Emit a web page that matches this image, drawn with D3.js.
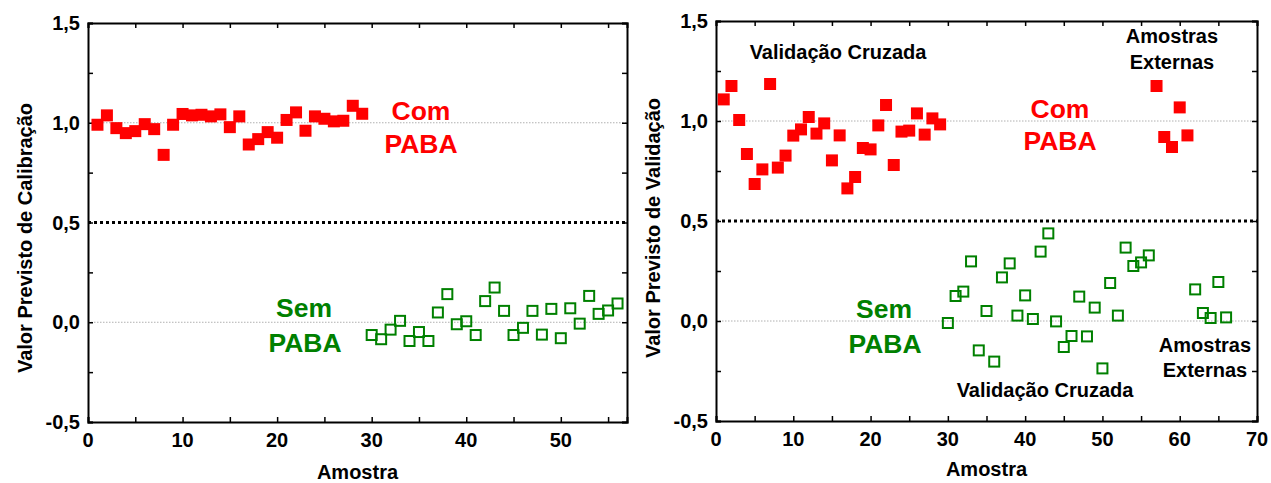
<!DOCTYPE html>
<html><head><meta charset="utf-8">
<script src="https://cdn.jsdelivr.net/npm/d3@7"></script>
<style>
html,body{margin:0;padding:0;background:#fff;}
text{font-family:"Liberation Sans",Arial,Helvetica,sans-serif;font-weight:bold;}
</style></head>
<body>
<svg id="chart" width="1271" height="483"></svg>
<script>
// ---- Data ----
const calComSamples = [1,2,3,4,5,6,7,8,9,10,11,12,13,14,15,16,17,18,19,20,21,22,23,24,25,26,27,28,29];
const calComValues  = [0.99,1.037,0.973,0.948,0.958,0.993,0.968,0.839,0.99,1.044,1.037,1.040,1.032,1.042,0.978,1.032,0.891,0.918,0.953,0.925,1.014,1.052,0.96,1.032,1.02,1.007,1.01,1.085,1.045];
const calSemSamples = [30,31,32,33,34,35,36,37,38,39,40,41,42,43,44,45,46,47,48,49,50,51,52,53,54,55,56];
const calSemValues  = [-0.064,-0.085,-0.037,0.007,-0.094,-0.049,-0.094,0.049,0.141,-0.01,0.005,-0.064,0.106,0.174,0.057,-0.064,-0.028,0.057,-0.062,0.067,-0.08,0.07,-0.007,0.132,0.042,0.059,0.094];

const valComSamples = [1,2,3,4,5,6,7,8,9,10,11,12,13,14,15,16,17,18,19,20,21,22,23,24,25,26,27,28,29];
const valComValues  = [1.108,1.175,1.005,0.835,0.685,0.758,1.185,0.767,0.827,0.927,0.958,1.02,0.937,0.988,0.803,0.928,0.663,0.72,0.865,0.858,0.978,1.08,0.78,0.947,0.952,1.038,0.932,1.013,0.983];
const valComExtSamples = [57,58,59,60,61];
const valComExtValues  = [1.175,0.92,0.87,1.068,0.928];
const valSemSamples = [30,31,32,33,34,35,36,37,38,39,40,41,42,43,44,45,46,47,48,49,50,51,52,53,54,55,56];
const valSemValues  = [-0.01,0.125,0.147,0.298,-0.147,0.05,-0.203,0.218,0.288,0.027,0.128,0.01,0.347,0.438,-0.002,-0.13,-0.075,0.122,-0.077,0.067,-0.237,0.19,0.027,0.367,0.275,0.293,0.328];
const valSemExtSamples = [62,63,64,65,66];
const valSemExtValues  = [0.158,0.04,0.015,0.195,0.018];

const yTicks = [-0.5,0.0,0.5,1.0,1.5];
const yTickLabels = ["-0,5","0,0","0,5","1,0","1,5"];
const yMinorTicks = [-0.5,-0.25,0,0.25,0.5,0.75,1.0,1.25,1.5];
const xTicksLeft = [0,10,20,30,40,50];
const xMinorLeft = [0,5,10,15,20,25,30,35,40,45,50,55];
const xTicksRight = [0,10,20,30,40,50,60,70];
const xMinorRight = [0,5,10,15,20,25,30,35,40,45,50,55,60,65,70];
const threshold = 0.5;
const refLines = [0.0, 1.0];

const RED = "#ff0000", GREEN = "#008000";
const svg = d3.select("#chart");

function panel(cfg){
  const g = svg.append("g");
  const x = d3.scaleLinear().domain(cfg.xDomain).range([cfg.x0, cfg.x1]);
  const y = d3.scaleLinear().domain([-0.5,1.5]).range([cfg.y0, cfg.y1]);

  g.selectAll(".ref").data(refLines).enter().append("line")
    .attr("x1", cfg.x0).attr("x2", cfg.x1)
    .attr("y1", d=>y(d)).attr("y2", d=>y(d))
    .attr("stroke", "#b0b0b0").attr("stroke-width", 1).attr("stroke-dasharray", "1.5,1.5");
  g.append("line").attr("x1", cfg.x0).attr("x2", cfg.x1)
    .attr("y1", y(threshold)).attr("y2", y(threshold))
    .attr("stroke", "#000").attr("stroke-width", 3).attr("stroke-dasharray", "3,3");

  const tl = 5;
  const axL = d3.axisLeft(y).tickValues(yMinorTicks).tickSize(-tl).tickFormat("");
  const axR = d3.axisRight(y).tickValues(yMinorTicks).tickSize(-tl).tickFormat("");
  const axB = d3.axisBottom(x).tickValues(cfg.xMinor).tickSize(-tl).tickFormat("");
  const axT = d3.axisTop(x).tickValues(cfg.xMinor).tickSize(-tl).tickFormat("");
  [[axL,`translate(${cfg.x0},0)`],[axR,`translate(${cfg.x1},0)`],[axB,`translate(0,${cfg.y0})`],[axT,`translate(0,${cfg.y1})`]]
    .forEach(([a,t])=>{
      const ag = g.append("g").attr("transform", t).call(a);
      ag.select(".domain").attr("stroke","#000").attr("stroke-width",2);
      ag.selectAll(".tick line").attr("stroke","#000").attr("stroke-width",1.5);
    });

  g.selectAll(".yl").data(yTicks).enter().append("text")
    .attr("x", cfg.x0 - 8).attr("y", d=>y(d)+7)
    .attr("text-anchor","end").attr("font-size", 20).text((d,i)=>yTickLabels[i]);
  g.selectAll(".xl").data(cfg.xTicks).enter().append("text")
    .attr("x", d=>x(d)).attr("y", cfg.y0+25)
    .attr("text-anchor","middle").attr("font-size", 20).text(d=>d);

  g.append("text").attr("transform", `translate(${cfg.yTitleX},${cfg.yTitleY}) rotate(-90)`)
    .attr("text-anchor","middle").attr("font-size", 20).text(cfg.yTitle);
  g.append("text").attr("x", (cfg.x0+cfg.x1)/2).attr("y", cfg.xTitleY)
    .attr("text-anchor","middle").attr("font-size", 20).text("Amostra");

  cfg.filled.forEach(s=>{
    g.selectAll(null).data(s.xs).enter().append("rect")
      .attr("x", (d)=>x(d)-6).attr("y", (d,i)=>y(s.ys[i])-6)
      .attr("width",12).attr("height",12).attr("fill",RED);
  });
  cfg.open.forEach(s=>{
    g.selectAll(null).data(s.xs).enter().append("rect")
      .attr("x", (d)=>x(d)-5).attr("y", (d,i)=>y(s.ys[i])-5)
      .attr("width",10).attr("height",10).attr("fill","none")
      .attr("stroke",GREEN).attr("stroke-width",2);
  });

  cfg.notes.forEach(n=>{
    g.append("text").attr("x", n.x).attr("y", n.y).attr("text-anchor","middle")
      .attr("font-size", n.size).attr("fill", n.color).text(n.t);
  });
  return g;
}

panel({
  xDomain:[0,57], x0:88, x1:627, y0:422, y1:23,
  xTicks:xTicksLeft, xMinor:xMinorLeft,
  yTitle:"Valor Previsto de Calibração", yTitleX:32, yTitleY:238, xTitleY:479,
  filled:[{xs:calComSamples, ys:calComValues}],
  open:[{xs:calSemSamples, ys:calSemValues}],
  notes:[
    {t:"Com", x:421, y:120, size:26.5, color:RED},
    {t:"PABA", x:421, y:153, size:26.5, color:RED},
    {t:"Sem", x:304, y:317, size:26.5, color:GREEN},
    {t:"PABA", x:305, y:352, size:26.5, color:GREEN}
  ]
});

panel({
  xDomain:[0,70], x0:716, x1:1257, y0:421, y1:21,
  xTicks:xTicksRight, xMinor:xMinorRight,
  yTitle:"Valor Previsto de Validação", yTitleX:660, yTitleY:228, xTitleY:476,
  filled:[{xs:valComSamples, ys:valComValues},{xs:valComExtSamples, ys:valComExtValues}],
  open:[{xs:valSemSamples, ys:valSemValues},{xs:valSemExtSamples, ys:valSemExtValues}],
  notes:[
    {t:"Com", x:1060, y:118, size:26.5, color:RED},
    {t:"PABA", x:1060, y:150, size:26.5, color:RED},
    {t:"Sem", x:884, y:318, size:26.5, color:GREEN},
    {t:"PABA", x:885, y:353, size:26.5, color:GREEN},
    {t:"Validação Cruzada", x:838, y:59, size:20, color:"#000"},
    {t:"Amostras", x:1172, y:43, size:20, color:"#000"},
    {t:"Externas", x:1172, y:69, size:20, color:"#000"},
    {t:"Validação Cruzada", x:1045, y:397, size:20, color:"#000"},
    {t:"Amostras", x:1205, y:352, size:20, color:"#000"},
    {t:"Externas", x:1205, y:377, size:20, color:"#000"}
  ]
});
</script>
</body></html>
